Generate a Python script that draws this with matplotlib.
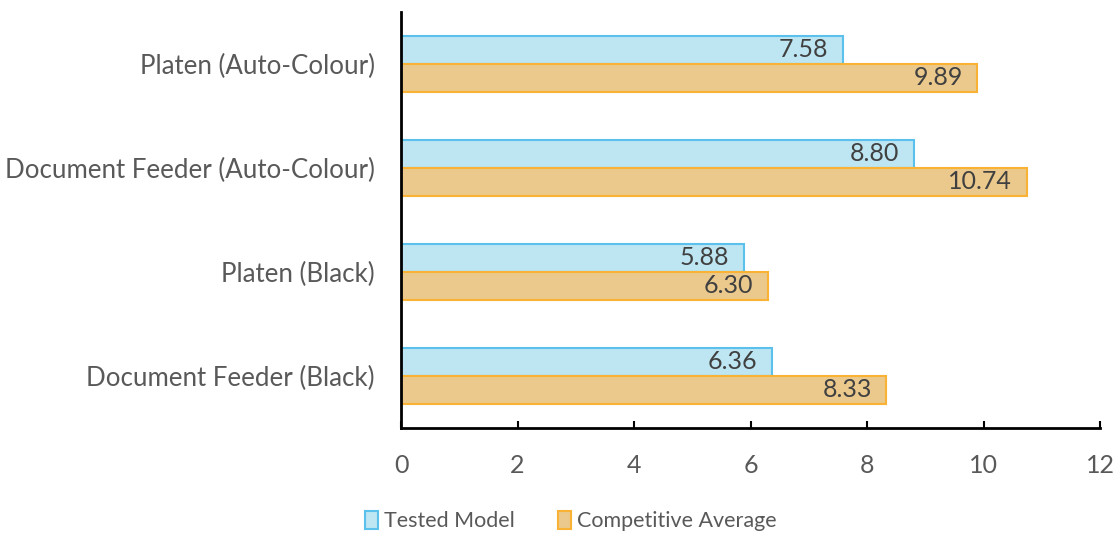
import numpy as np
import matplotlib.pyplot as plt
from matplotlib.patches import Patch

categories = ["Platen (Auto-Colour)", "Document Feeder (Auto-Colour)",
              "Platen (Black)", "Document Feeder (Black)"]
tested = [7.58, 8.80, 5.88, 6.36]
competitive = [9.89, 10.74, 6.30, 8.33]

plt.rcParams['font.family'] = ['Lato', 'DejaVu Sans']
txt = '#404040'
grey = '#595959'

fig = plt.figure(figsize=(11.17, 5.34), dpi=100)
ax = fig.add_axes([0.359, 0.199, 0.626, 0.779])

y = np.arange(len(categories))
h = 0.27
ax.barh(y - h / 2, tested, height=h, color='#BDE5F2', edgecolor='#5BC0EB', lw=1.5)
ax.barh(y + h / 2, competitive, height=h, color='#EBC98C', edgecolor='#F9B233', lw=1.5)

for i in range(len(categories)):
    ax.text(tested[i] - 0.25, y[i] - h / 2, f"{tested[i]:.2f}", ha='right', va='center',
            fontsize=18, color=txt)
    ax.text(competitive[i] - 0.25, y[i] + h / 2, f"{competitive[i]:.2f}", ha='right', va='center',
            fontsize=18, color=txt)

ax.set_xlim(0, 12)
ax.set_ylim(3.5, -0.5)
ax.set_xticks(range(0, 13, 2))
ax.set_yticks(y)
ax.set_yticklabels(categories)
ax.tick_params(axis='x', direction='in', length=5, width=1.5, labelsize=18,
               labelcolor=grey, pad=19)
ax.tick_params(axis='y', length=0, labelsize=18.6, labelcolor=grey, pad=19)
for s in ['top', 'right']:
    ax.spines[s].set_visible(False)
ax.spines['left'].set_linewidth(2)
ax.spines['bottom'].set_linewidth(2)

handles = [Patch(facecolor='#BDE5F2', edgecolor='#5BC0EB', lw=1.5, label='Tested Model'),
           Patch(facecolor='#EBC98C', edgecolor='#F9B233', lw=1.5, label='Competitive Average')]
fig.legend(handles=handles, loc='center', bbox_to_anchor=(0.511, 0.024), ncol=2,
           frameon=False, fontsize=15.5, labelcolor=grey, handlelength=0.6, handleheight=0.9,
           handletextpad=0.3, columnspacing=2.0)

plt.savefig("out.png")
